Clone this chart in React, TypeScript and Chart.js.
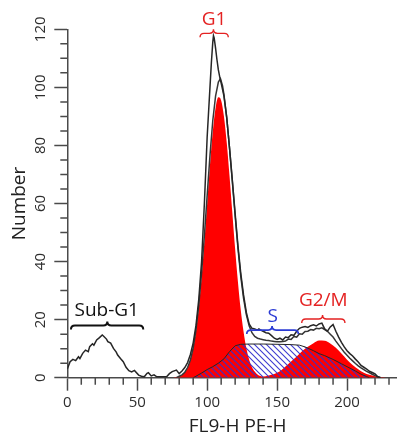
import React, { useEffect, useRef } from 'react';
import { Chart, registerables } from 'chart.js';

Chart.register(...registerables);

const FONT = '"Open Sans", "Noto Sans", sans-serif';
const AXIS = '#4a4a4a';
const RED_TEXT = '#e42222';
const BLUE_TEXT = '#2b3bd4';

// ---- raw histogram (outer black line) ----
const rawX = [
  0, 2, 4, 6, 8, 9, 11, 13, 15, 16,
  18, 19, 21, 23, 25, 26, 28, 29, 31, 33,
  35, 36, 38, 40, 42, 44, 46, 48, 51, 53,
  55, 57, 58, 60, 62, 64, 66, 71, 73, 75,
  78, 80, 82, 84, 86, 88, 90, 92, 94, 96,
  98, 100, 102, 103, 104, 104.5, 105, 106, 107, 108,
  109, 110, 112, 114, 116, 118, 120, 122, 124, 126,
  128, 130, 132, 134, 136, 137, 138, 140, 142, 144,
  146, 148, 150, 152, 154, 156, 158, 160, 162, 164,
  166, 168, 170, 172, 174, 176, 178, 180, 182, 184,
  186, 188, 190, 192, 194, 196, 198, 200, 202, 204,
  206, 208, 210, 212, 214, 216, 218, 220, 222, 224,
];
const rawCounts = [
  3.0, 5.5, 6.3, 5.9, 7.2, 6.6, 8.4, 9.5, 9.0, 10.7,
  11.7, 11.2, 13.0, 13.8, 14.7, 14.3, 13.3, 12.4, 11.9, 10.1,
  8.8, 7.8, 6.6, 5.5, 3.6, 2.4, 2.0, 2.5, 0.9, 0.5,
  0.3, 1.5, 1.7, 0.6, 1.0, 0.3, 0.3, 0.3, 1.4, 2.1,
  2.6, 1.4, 2.3, 3.5, 5.2, 8.0, 12, 18, 27, 40,
  60, 83, 100, 108.5, 115.5, 117.8, 117, 113.5, 109.5, 106,
  103.5, 101.5, 97, 89.5, 79, 68, 56.5, 45.5, 36, 28.5,
  22.5, 18.5, 17, 16.8, 16.4, 16.8, 16.5, 16, 15.5, 15.3,
  14.5, 13.6, 13.2, 13.6, 13, 14, 13.8, 14.8, 14.6, 16,
  17, 17.4, 17.6, 17.3, 17.9, 18.2, 17.8, 18.5, 18.8, 16.8,
  16.0, 17.5, 18.3, 16.0, 14.0, 12.2, 10.6, 9.3, 8.3, 7.5,
  6.4, 5.4, 4.2, 3.6, 3.0, 2.2, 1.8, 1.3, 0.3, 0,
];

// ---- second histogram line ----
const fitX = [
  78, 80, 82, 84, 86, 88, 90, 92, 94, 96,
  98, 100, 102, 104, 106, 108, 109.5, 111, 112, 114,
  116, 118, 120, 122, 124, 126, 128, 130, 132, 134,
  136, 138, 140, 142, 144, 146, 148, 150, 152, 154,
  156, 158, 160, 162, 164, 166, 168, 170, 172, 174,
  176, 178, 180, 182, 184, 186, 188, 190, 192, 194,
  196, 198, 200, 202, 204, 206, 208, 210, 212, 214,
  216, 218, 220, 222, 224,
];
const fitCounts = [
  0, 0.5, 1, 1.9, 3.5, 6.1, 10.2, 16.5, 25, 36,
  48.9, 62.8, 76.5, 88.5, 97, 101.8, 103, 100.5, 97.5, 89.5,
  79, 67.5, 55.8, 44.6, 35, 27.4, 21.7, 17.9, 15.5, 14.2,
  13.6, 13.3, 13.1, 12.9, 12.8, 12.6, 12.5, 12.4, 12.4, 12.5,
  12.6, 13.3, 13.2, 14.2, 14.0, 15.1, 15.0, 15.9, 16.0, 16.6,
  16.4, 17.0, 16.9, 17.2, 16.6, 16.0, 15.0, 14, 12.6, 11.3,
  10, 8.8, 7.7, 6.7, 5.8, 4.9, 4.1, 3.4, 2.8, 2.2,
  1.7, 1.2, 0.7, 0.3, 0,
];

// ---- G1 component (red) ----
const g1X = [
  76, 78, 80, 82, 84, 86, 88, 90, 92, 94,
  96, 98, 100, 102, 104, 106, 108, 110, 112, 114,
  116, 118, 120, 122, 124, 126, 128, 130, 132, 134,
  136, 138, 140, 142,
];
const g1Counts = [
  0.09, 0.21, 0.45, 0.94, 1.84, 3.4, 6.0, 10.1, 16.0, 24.1,
  34.5, 46.7, 60.0, 73.2, 84.7, 92.9, 96.6, 95.5, 90.0, 80.9,
  69.4, 56.8, 44.3, 33.0, 23.4, 15.9, 10.2, 6.3, 3.7, 2.1,
  1.1, 0.57, 0.28, 0,
];

// ---- G2/M component (red) ----
const g2X = [
  136, 140, 144, 148, 152, 156, 160, 164, 168, 172,
  176, 180, 184, 188, 192, 196, 200, 204, 208, 212,
  216, 220, 224, 228,
];
const g2Counts = [
  0.2, 0.4, 0.8, 1.3, 2.2, 3.9, 5.6, 7.3, 9.2, 10.7,
  11.9, 12.8, 12.7, 11.8, 10.3, 8.3, 6.2, 4.4, 2.9, 1.7,
  1.0, 0.5, 0.25, 0,
];

// ---- S component (hatched) ----
const sX = [
  90, 92, 96, 100, 104, 108, 112, 116, 120, 124,
  130, 140, 150, 160, 166, 170, 176, 180, 184, 190,
  196, 200, 206, 210, 214, 216,
];
const sCounts = [
  0, 0.5, 1.6, 2.8, 3.8, 5.0, 6.5, 9.0, 11.0, 11.5,
  11.6, 11.6, 11.5, 11.4, 11.2, 10.6, 9.3, 8.3, 7.6, 6.3,
  4.8, 3.8, 2.3, 1.2, 0.4, 0,
];

// ---- axes ----
const xTicks = [0, 50, 100, 150, 200];
const yTicks = [0, 20, 40, 60, 80, 100, 120];
const xMinorTicks = [10, 20, 30, 40, 60, 70, 80, 90, 110, 120, 130, 140, 160, 170, 180, 190, 210, 220, 230];
const yMinorTicks = [5, 10, 15, 25, 30, 35, 45, 50, 55, 65, 70, 75, 85, 90, 95, 105, 110, 115];
const xTitle = 'FL9-H PE-H';
const yTitle = 'Number';

// ---- region labels (anchored in data units) ----
const regionLabels = [
  { text: 'Sub-G1', color: '#111111', x: 28.2, y: 23.1, from: 2.6, to: 54.3, tip: 28.6, braceY: 18.0, lw: 2 },
  { text: 'G1', color: RED_TEXT, x: 104.9, y: 123.5, from: 94.9, to: 115.1, tip: 104.5, braceY: 118.6, lw: 1.4 },
  { text: 'S', color: BLUE_TEXT, x: 146.9, y: 21.2, from: 128.3, to: 165.2, tip: 146.4, braceY: 16.4, lw: 1.7 },
  { text: 'G2/M', color: RED_TEXT, x: 183.0, y: 26.5, from: 167.6, to: 198.5, tip: 182.5, braceY: 20.2, lw: 1.4 },
];

const pts = (xs: number[], ys: number[]) => xs.map((x, i) => ({ x, y: ys[i] }));

function brace(ctx: CanvasRenderingContext2D, x0: number, x1: number, y: number, tip: number, h: number) {
  const r = Math.min(h, (x1 - x0) / 4);
  ctx.beginPath();
  ctx.moveTo(x0, y + h);
  ctx.quadraticCurveTo(x0, y, x0 + r, y);
  ctx.lineTo(tip - r, y);
  ctx.quadraticCurveTo(tip, y, tip, y - h);
  ctx.quadraticCurveTo(tip, y, tip + r, y);
  ctx.lineTo(x1 - r, y);
  ctx.quadraticCurveTo(x1, y, x1, y + h);
  ctx.stroke();
}

const decorPlugin = {
  id: 'decor',
  afterDraw(chart: any) {
    const { ctx, chartArea } = chart;
    const xs = chart.scales.x;
    const ys = chart.scales.y;
    ctx.save();
    // minor ticks
    ctx.strokeStyle = AXIS;
    ctx.lineWidth = 1.5;
    ctx.beginPath();
    const bottom = chartArea.bottom;
    const left = chartArea.left;
    xMinorTicks.forEach((v) => {
      const px = xs.getPixelForValue(v);
      ctx.moveTo(px, bottom);
      ctx.lineTo(px, bottom + 7);
    });
    yMinorTicks.forEach((v) => {
      const py = ys.getPixelForValue(v);
      ctx.moveTo(left, py);
      ctx.lineTo(left - 7, py);
    });
    ctx.stroke();

    // rotated y tick labels
    ctx.fillStyle = '#2e2e2e';
    ctx.font = `15px ${FONT}`;
    ctx.textAlign = 'center';
    ctx.textBaseline = 'middle';
    yTicks.forEach((v) => {
      const py = ys.getPixelForValue(v);
      ctx.save();
      ctx.translate(left - 26.5, py);
      ctx.rotate(-Math.PI / 2);
      ctx.fillText(String(v), 0, 0);
      ctx.restore();
    });

    // x title
    ctx.fillStyle = '#222222';
    ctx.font = `19px ${FONT}`;
    ctx.fillText(xTitle, (chartArea.left + chartArea.right) / 2 + 6, 427);

    // region labels and braces
    regionLabels.forEach((lab) => {
      ctx.fillStyle = lab.color;
      ctx.strokeStyle = lab.color;
      ctx.lineWidth = lab.lw;
      ctx.font = `19px ${FONT}`;
      ctx.textAlign = 'center';
      ctx.textBaseline = 'middle';
      ctx.fillText(lab.text, xs.getPixelForValue(lab.x), ys.getPixelForValue(lab.y));
      brace(
        ctx,
        xs.getPixelForValue(lab.from),
        xs.getPixelForValue(lab.to),
        ys.getPixelForValue(lab.braceY),
        xs.getPixelForValue(lab.tip),
        4,
      );
    });
    ctx.restore();
  },
};

export default function App() {
  const ref = useRef<HTMLCanvasElement | null>(null);

  useEffect(() => {
    const canvas = ref.current;
    if (!canvas) return;
    const ctx = canvas.getContext('2d')!;

    // diagonal hatch for S phase
    const pc = document.createElement('canvas');
    pc.width = 6;
    pc.height = 6;
    const p = pc.getContext('2d')!;
    p.strokeStyle = 'rgba(50,50,205,0.95)';
    p.lineWidth = 1.1;
    p.beginPath();
    p.moveTo(-1, -1);
    p.lineTo(7, 7);
    p.moveTo(-1, 5);
    p.lineTo(1, 7);
    p.moveTo(5, -1);
    p.lineTo(7, 1);
    p.stroke();
    const hatch = ctx.createPattern(pc, 'repeat');

    Chart.defaults.font.family = FONT;

    const chart = new Chart(canvas, {
      type: 'line',
      data: {
        datasets: [
          {
            label: 'Data',
            data: pts(rawX, rawCounts),
            borderColor: '#262626',
            borderWidth: 1.5,
            tension: 0,
            fill: false,
            order: 0,
          },
          {
            label: 'Second',
            data: pts(fitX, fitCounts),
            borderColor: '#363636',
            borderWidth: 1.5,
            tension: 0,
            fill: false,
            order: 1,
          },
          {
            label: 'S',
            data: pts(sX, sCounts),
            borderColor: '#262626',
            borderWidth: 1,
            backgroundColor: hatch as any,
            tension: 0,
            fill: 'origin',
            order: 2,
          },
          {
            label: 'G2/M',
            data: pts(g2X, g2Counts),
            borderColor: 'rgba(0,0,0,0)',
            borderWidth: 0,
            backgroundColor: '#ff0000',
            cubicInterpolationMode: 'monotone',
            fill: 'origin',
            order: 3,
          },
          {
            label: 'G1',
            data: pts(g1X, g1Counts),
            borderColor: 'rgba(0,0,0,0)',
            borderWidth: 0,
            backgroundColor: '#ff0000',
            cubicInterpolationMode: 'monotone',
            fill: 'origin',
            order: 4,
          },
        ] as any,
      },
      options: {
        animation: false,
        responsive: false,
        maintainAspectRatio: false,
        layout: { padding: { top: 29.3, right: 2, left: 0, bottom: 0 } },
        elements: { point: { radius: 0, hoverRadius: 0 } },
        plugins: { legend: { display: false }, tooltip: { enabled: false } },
        scales: {
          x: {
            type: 'linear',
            min: 0,
            max: 235,
            afterBuildTicks: (s: any) => {
              s.ticks = xTicks.map((v) => ({ value: v }));
            },
            afterFit: (s: any) => {
              s.height = 57.3;
            },
            grid: {
              display: true,
              drawOnChartArea: false,
              drawTicks: true,
              tickLength: 13,
              tickColor: AXIS,
              tickWidth: 1.5,
            },
            border: { display: true, color: AXIS, width: 1.5 },
            ticks: {
              color: '#2e2e2e',
              font: { family: FONT, size: 15 },
              padding: 3,
              maxRotation: 0,
              autoSkip: false,
            },
            title: { display: false },
          },
          y: {
            type: 'linear',
            min: 0,
            max: 120,
            afterBuildTicks: (s: any) => {
              s.ticks = yTicks.map((v) => ({ value: v }));
            },
            afterFit: (s: any) => {
              s.width = 67.3;
            },
            grid: {
              display: true,
              drawOnChartArea: false,
              drawTicks: true,
              tickLength: 13,
              tickColor: AXIS,
              tickWidth: 1.5,
            },
            border: { display: true, color: AXIS, width: 1.5 },
            ticks: { display: false },
            title: {
              display: true,
              text: yTitle,
              color: '#222222',
              font: { family: FONT, size: 19, lineHeight: 1 },
              padding: { top: 10.5, bottom: 0 },
            },
          },
        },
      } as any,
      plugins: [decorPlugin],
    });
    return () => chart.destroy();
  }, []);

  return (
    <div style={{ position: 'fixed', left: 0, top: 0, width: 398, height: 435, background: '#ffffff' }}>
      <canvas ref={ref} width={398} height={435} style={{ display: 'block', width: 398, height: 435 }} />
    </div>
  );
}
